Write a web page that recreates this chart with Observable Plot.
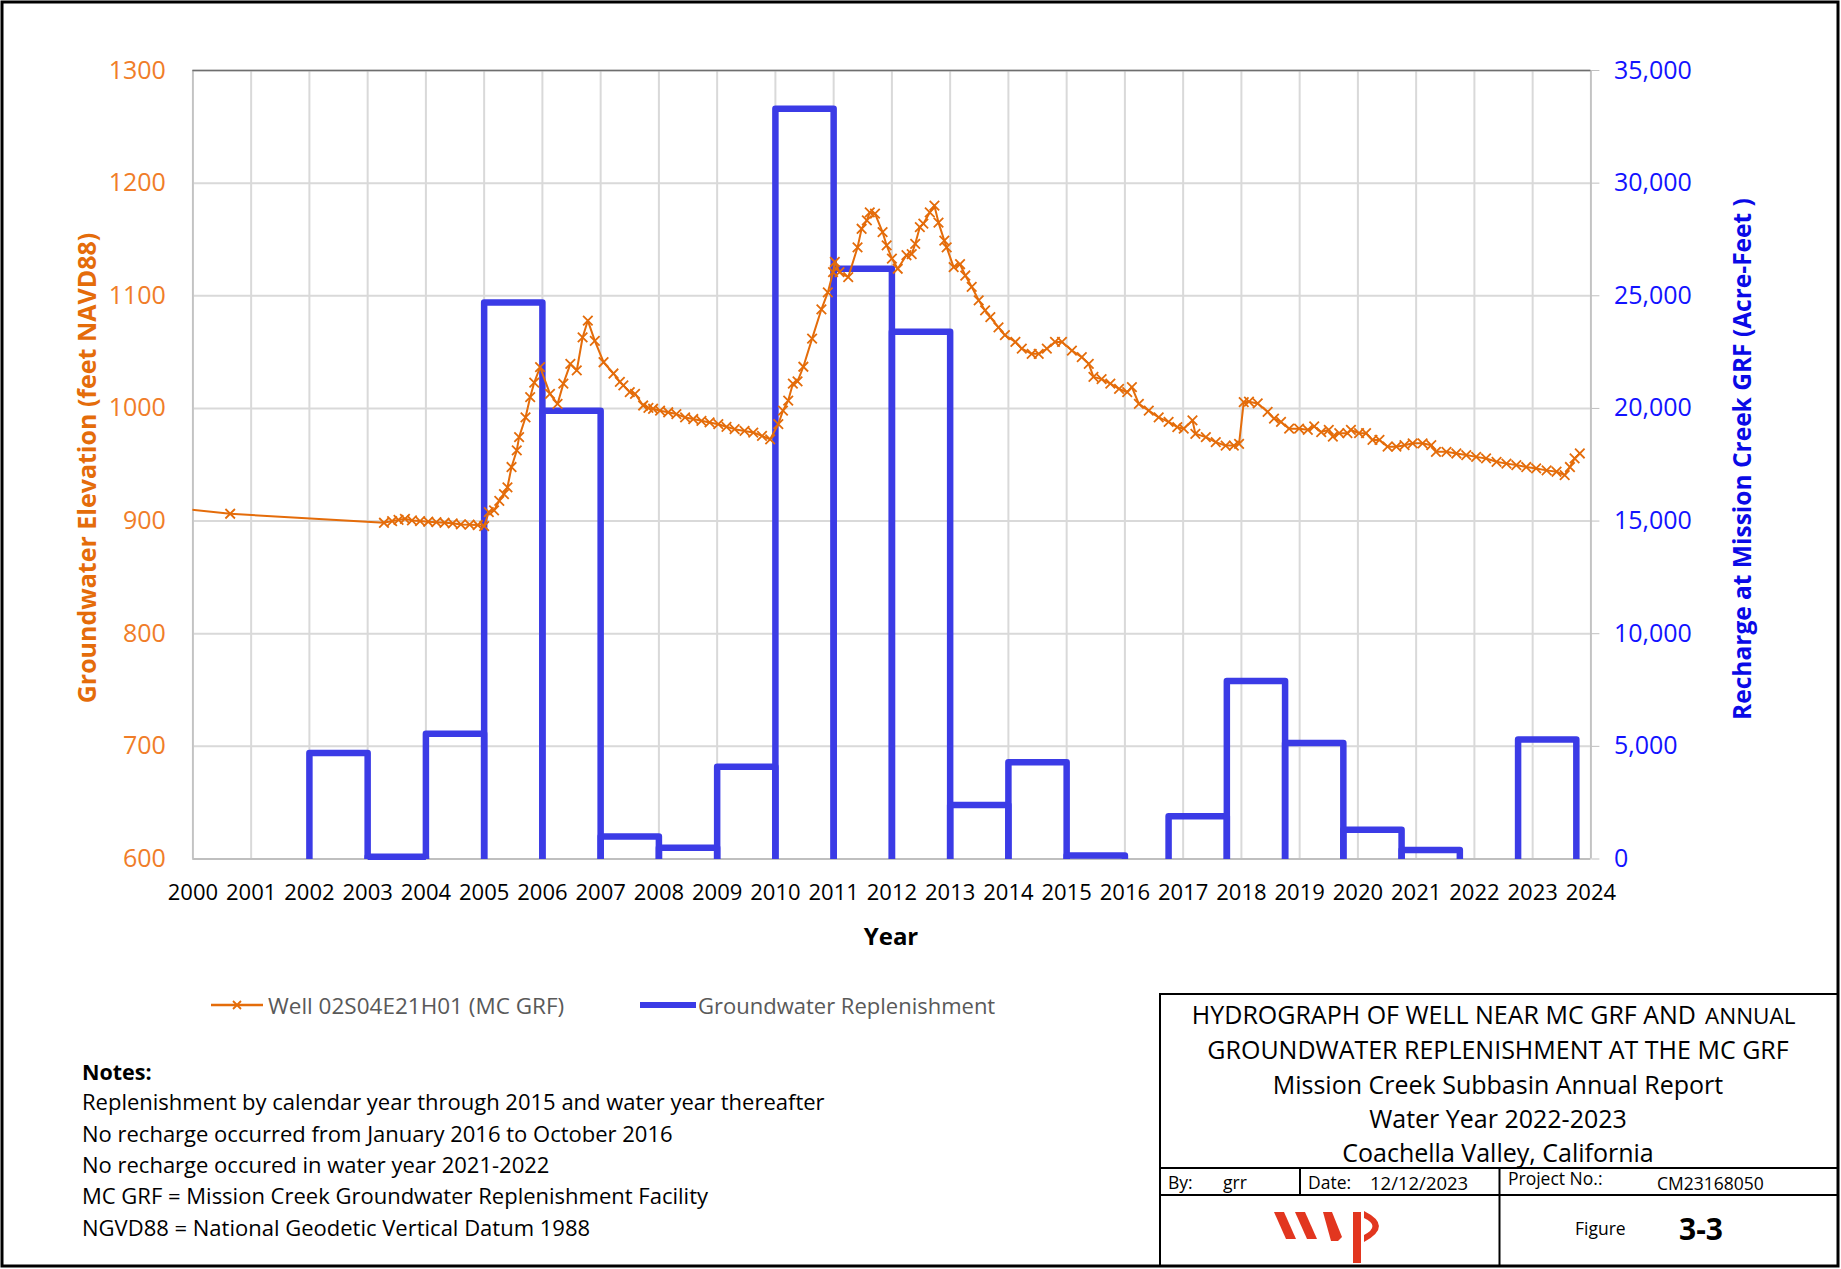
<!DOCTYPE html>
<html>
<head>
<meta charset="utf-8">
<script src="https://cdn.jsdelivr.net/npm/d3@7"></script>
<script src="https://cdn.jsdelivr.net/npm/@observablehq/plot@0.6"></script>
<style>
  body { margin: 0; background: #fff; }
  #page { position: relative; width: 1841px; height: 1269px; overflow: hidden; font-family: "Open Sans", sans-serif; background: #fff; }
  #page > svg { position: absolute; left: 0; top: 0; }
</style>
</head>
<body>
<div id="page"></div>
<script>
// Well 02S04E21H01 water levels: decimal year and elevation (feet)
const wellYears = [
  1999.5, 2000.64,
  2003.28, 2003.42, 2003.53, 2003.64, 2003.76, 2003.9, 2004.04, 2004.18, 2004.32, 2004.46, 2004.6, 2004.75, 2004.89, 2005.0,
  2005.08, 2005.17, 2005.26, 2005.34, 2005.4, 2005.47, 2005.56, 2005.6, 2005.71, 2005.79, 2005.86, 2005.96,
  2006.13, 2006.26, 2006.36, 2006.48, 2006.59, 2006.69, 2006.78, 2006.9, 2007.05, 2007.22, 2007.33, 2007.39, 2007.5, 2007.59, 2007.73, 2007.82, 2007.9,
  2008.02, 2008.16, 2008.3, 2008.45, 2008.59, 2008.73, 2008.87, 2009.02, 2009.16, 2009.3, 2009.47, 2009.62, 2009.77, 2009.91,
  2010.05, 2010.13, 2010.22, 2010.3, 2010.38, 2010.48, 2010.63, 2010.79, 2010.9, 2010.99, 2011.02, 2011.1, 2011.25, 2011.41, 2011.48, 2011.57, 2011.62, 2011.71, 2011.84, 2011.91,
  2012.0, 2012.1, 2012.25, 2012.34, 2012.4, 2012.48, 2012.54, 2012.65, 2012.73, 2012.8, 2012.9, 2012.94,
  2013.06, 2013.17, 2013.26, 2013.37, 2013.49, 2013.6, 2013.69, 2013.83, 2013.94,
  2014.12, 2014.23, 2014.4, 2014.52, 2014.66, 2014.8, 2014.92,
  2015.09, 2015.26, 2015.38, 2015.46, 2015.6, 2015.75, 2015.9,
  2016.04, 2016.12, 2016.24, 2016.41, 2016.58, 2016.75, 2016.9,
  2017.01, 2017.16, 2017.21, 2017.39, 2017.56, 2017.73, 2017.87, 2017.96,
  2018.04, 2018.13, 2018.28, 2018.45, 2018.56, 2018.68, 2018.82, 2018.99,
  2019.14, 2019.25, 2019.37, 2019.5, 2019.57, 2019.68, 2019.82, 2019.88,
  2020.02, 2020.14, 2020.25, 2020.37, 2020.51, 2020.66, 2020.8, 2020.94,
  2021.11, 2021.26, 2021.34, 2021.52, 2021.69, 2021.86,
  2022.03, 2022.2, 2022.38, 2022.55, 2022.72, 2022.89,
  2023.06, 2023.24, 2023.41, 2023.55, 2023.64, 2023.72, 2023.81
];
const wellElev = [
  912.8, 906.5,
  898.5, 900, 901, 902, 900.6, 900, 899.4, 899, 898.5, 898, 897, 896.8, 896.5, 895.6,
  908, 909.5, 918, 924, 930, 948, 962.7, 974.5, 992, 1010, 1023, 1036.6,
  1013, 1004, 1022, 1039.6, 1033.7, 1063, 1078, 1060, 1041, 1031, 1023.5, 1020.5, 1014.5, 1013, 1002.6, 1000.5, 999.7,
  998, 996.6, 995, 992, 990.6, 989, 987.6, 986, 983.7, 981.6, 980, 978.6, 975.6, 972.6,
  986, 998, 1007, 1022, 1024, 1037, 1062, 1088, 1103, 1121, 1130, 1121, 1116.5, 1143, 1159.5, 1167, 1174, 1173, 1156.5, 1144.7,
  1133, 1124, 1136, 1137, 1146, 1161, 1164, 1174, 1180, 1165, 1149, 1143,
  1125.4, 1128, 1118, 1108, 1096, 1087, 1081, 1072, 1065,
  1059, 1053, 1048.5, 1048.5, 1053, 1059, 1059,
  1051.4, 1045.5, 1039.6, 1028, 1026, 1022, 1017.4,
  1014.4, 1019, 1004, 998, 992, 988, 983.4,
  982, 989.4, 977.5, 974.5, 970, 967, 967, 968.6,
  1005.6, 1006, 1004.4, 997, 991, 988, 982, 982,
  981, 984, 979, 981, 975, 978, 978, 981,
  978, 978, 972, 972, 966, 966, 967.4, 969,
  969, 967.4, 961.5, 961.5, 960, 958.6,
  957, 955.6, 952.6, 951, 949.7, 948,
  946.7, 945, 943.8, 940.8, 948, 955.6, 960
];

// Replenishment at the MC GRF (acre-feet) per period:
// calendar years through 2015, water years (Oct 1 - Sep 30) thereafter
const rechargeStart = [2002, 2003, 2004, 2005, 2006, 2007, 2008, 2009, 2010, 2011, 2012, 2013, 2014, 2015, 2016.75, 2017.75, 2018.75, 2019.75, 2020.75, 2022.75];
const rechargeEnd   = [2003, 2004, 2005, 2006, 2007, 2008, 2009, 2010, 2011, 2012, 2013, 2014, 2015, 2016, 2017.75, 2018.75, 2019.75, 2020.75, 2021.75, 2023.75];
const rechargeAF    = [4700, 100, 5560, 24700, 19900, 1000, 500, 4100, 33300, 26200, 23400, 2400, 4300, 150, 1900, 7900, 5150, 1300, 400, 5300];

// Axis ticks
const yearTicks = d3.range(2000, 2025);
const elevTicks = d3.range(600, 1301, 100);

const ORANGE = "#E46C0A";
const ORANGE_TXT = "#F07D28";
const BLUE = "#3B3BE6";
const BLUE_TXT = "#1212FF";
const GRID = "#D9D9D9";

// recharge (0–35,000 AF) shares the elevation scale (600–1300 ft)
const afToElev = af => 600 + af / 50;
const elevToAf = e => (e - 600) * 50;

const well = wellYears.map((t, i) => ({t, elev: wellElev[i]}));

// open-bottomed column outlines: up, across, down
const barPath = rechargeAF.flatMap((af, i) => [
  {id: i, x: rechargeStart[i], af: 0},
  {id: i, x: rechargeStart[i], af},
  {id: i, x: rechargeEnd[i], af},
  {id: i, x: rechargeEnd[i], af: 0}
]);

const chart = Plot.plot({
  width: 1841,
  height: 1269,
  marginLeft: 192.4,
  marginRight: 250.6,
  marginTop: 70,
  marginBottom: 410.5,
  style: {fontFamily: "'Open Sans', sans-serif", fontSize: "22px", background: "transparent"},
  x: {domain: [2000, 2024]},
  y: {domain: [600, 1300]},
  marks: [
    Plot.gridX(yearTicks, {stroke: GRID, strokeOpacity: 1, strokeWidth: 2}),
    Plot.gridY(elevTicks, {stroke: GRID, strokeOpacity: 1, strokeWidth: 2}),
    Plot.ruleX([2000, 2024], {stroke: "#BFBFBF", strokeWidth: 1.5}),
    Plot.ruleY([600], {stroke: "#BFBFBF", strokeWidth: 2}),
    Plot.ruleY([1300], {stroke: "#6E6E6E", strokeWidth: 1.5}),
    Plot.line(barPath, {
      x: "x", y: d => afToElev(d.af), z: "id",
      stroke: BLUE, strokeWidth: 6.5, strokeLinejoin: "round", strokeLinecap: "butt"
    }),
    Plot.line(well, {x: "t", y: "elev", stroke: ORANGE, strokeWidth: 2, clip: true}),
    Plot.dot(well, {x: "t", y: "elev", symbol: "times", r: 4.4, stroke: ORANGE, strokeWidth: 1.8, clip: true}),
    Plot.axisX(yearTicks, {
      anchor: "bottom", tickSize: 0, tickPadding: 25, fontSize: 22,
      tickFormat: d => String(d), fill: "#000", label: null
    }),
    Plot.axisY(elevTicks, {
      anchor: "left", tickSize: 0, tickPadding: 27, fontSize: 25,
      tickFormat: d => String(d), fill: ORANGE_TXT, label: null
    }),
    Plot.axisY(elevTicks, {
      anchor: "right", tickSize: 8, tickPadding: 15, fontSize: 25,
      tickFormat: d => d3.format(",")(elevToAf(d)), stroke: "#BFBFBF", fill: BLUE_TXT, label: null
    })
  ]
});
document.getElementById("page").appendChild(chart);

// Axis titles, legend, notes and title block
const svg = d3.select("#page").append("svg")
  .attr("width", 1841).attr("height", 1269)
  .style("font-family", "'Open Sans', sans-serif");

// page border
svg.append("rect").attr("x", 2).attr("y", 2).attr("width", 1836).attr("height", 1264)
  .attr("fill", "none").attr("stroke", "#000").attr("stroke-width", 3);

// axis titles
svg.append("text").attr("transform", "translate(86,468) rotate(-90)")
  .attr("text-anchor", "middle").attr("dominant-baseline", "central")
  .attr("font-size", 25).attr("font-weight", "bold").attr("fill", ORANGE)
  .text("Groundwater Elevation (feet NAVD88)");
svg.append("text").attr("transform", "translate(1741,459) rotate(-90)")
  .attr("text-anchor", "middle").attr("dominant-baseline", "central")
  .attr("font-size", 24.5).attr("font-weight", "bold").attr("fill", "#0A0AE6")
  .text("Recharge at Mission Creek GRF (Acre-Feet )");
svg.append("text").attr("x", 891).attr("y", 935)
  .attr("text-anchor", "middle").attr("dominant-baseline", "central")
  .attr("font-size", 24).attr("font-weight", "bold").attr("fill", "#000")
  .text("Year");

// legend
const lg = svg.append("g");
lg.append("line").attr("x1", 211).attr("x2", 263).attr("y1", 1005).attr("y2", 1005)
  .attr("stroke", ORANGE).attr("stroke-width", 2.5);
lg.append("path").attr("d", "M233,1001L241,1009M233,1009L241,1001")
  .attr("stroke", ORANGE).attr("stroke-width", 1.8);
lg.append("text").attr("x", 268).attr("y", 1005).attr("dominant-baseline", "central")
  .attr("font-size", 22.5).attr("fill", "#595959").text("Well 02S04E21H01 (MC GRF)");
lg.append("line").attr("x1", 640).attr("x2", 696).attr("y1", 1005).attr("y2", 1005)
  .attr("stroke", BLUE).attr("stroke-width", 6);
lg.append("text").attr("x", 698).attr("y", 1005).attr("dominant-baseline", "central")
  .attr("font-size", 22).attr("fill", "#595959").text("Groundwater Replenishment");

// notes
const notes = [
  "Replenishment by calendar year through 2015 and water year thereafter",
  "No recharge occurred from January 2016 to October 2016",
  "No recharge occured in water year 2021-2022",
  "MC GRF = Mission Creek Groundwater Replenishment Facility",
  "NGVD88 = National Geodetic Vertical Datum 1988"
];
const noteY = [1101, 1133, 1164, 1195, 1227];
svg.append("text").attr("x", 82).attr("y", 1071).attr("dominant-baseline", "central")
  .attr("font-size", 21.5).attr("font-weight", "bold").attr("fill", "#000").text("Notes:");
svg.selectAll("text.note").data(notes).join("text").attr("class", "note")
  .attr("x", 82).attr("y", (d, i) => noteY[i]).attr("dominant-baseline", "central")
  .attr("font-size", 22).attr("fill", "#000").text(d => d);

// title block frame
const tb = svg.append("g").attr("stroke", "#000").attr("stroke-width", 2).attr("fill", "none");
tb.append("rect").attr("x", 1160).attr("y", 994).attr("width", 678).attr("height", 272);
tb.append("line").attr("x1", 1160).attr("x2", 1838).attr("y1", 1168).attr("y2", 1168);
tb.append("line").attr("x1", 1160).attr("x2", 1838).attr("y1", 1195).attr("y2", 1195);
tb.append("line").attr("x1", 1300).attr("x2", 1300).attr("y1", 1168).attr("y2", 1195);
tb.append("line").attr("x1", 1499.5).attr("x2", 1499.5).attr("y1", 1168).attr("y2", 1266);

const titleY = [1014, 1049, 1084, 1118, 1152];
// first line: "ANNUAL" is set slightly smaller
svg.append("text").attr("x", 1696).attr("y", titleY[0]).attr("text-anchor", "end")
  .attr("dominant-baseline", "central").attr("font-size", 25).attr("fill", "#000")
  .text("HYDROGRAPH OF WELL NEAR MC GRF AND");
svg.append("text").attr("x", 1705).attr("y", titleY[0] + 1).attr("text-anchor", "start")
  .attr("dominant-baseline", "central").attr("font-size", 22.5).attr("fill", "#000")
  .text("ANNUAL");
const titleLines = [
  "GROUNDWATER REPLENISHMENT AT THE MC GRF",
  "Mission Creek Subbasin Annual Report",
  "Water Year 2022-2023",
  "Coachella Valley, California"
];
svg.selectAll("text.tl").data(titleLines).join("text").attr("class", "tl")
  .attr("x", 1498).attr("y", (d, i) => titleY[i + 1]).attr("text-anchor", "middle")
  .attr("dominant-baseline", "central").attr("font-size", 25).attr("fill", "#000").text(d => d);

const cells = [
  {x: 1168, y: 1182, t: "By:"}, {x: 1223, y: 1182, t: "grr"},
  {x: 1308, y: 1182, t: "Date:"}, {x: 1370, y: 1182, t: "12/12/2023"},
  {x: 1508, y: 1178, t: "Project No.:"}, {x: 1657, y: 1183, t: "CM23168050"}
];
svg.selectAll("text.cell").data(cells).join("text").attr("class", "cell")
  .attr("x", d => d.x).attr("y", d => d.y).attr("dominant-baseline", "central")
  .attr("font-size", d => d.t === "12/12/2023" ? 18.5 : 17.5).attr("fill", "#000").text(d => d.t);
svg.append("text").attr("x", 1575).attr("y", 1228).attr("dominant-baseline", "central")
  .attr("font-size", 17.5).attr("fill", "#000").text("Figure");
svg.append("text").attr("x", 1679).attr("y", 1228).attr("dominant-baseline", "central")
  .attr("font-size", 30).attr("font-weight", "bold").attr("fill", "#000").text("3-3");

// wsp logo
const logo = svg.append("g").attr("fill", "#E2361F");
logo.append("path").attr("d", "M1274,1212L1284,1212L1296,1239L1286,1239Z");
logo.append("path").attr("d", "M1295,1212L1305,1212L1317,1239L1307,1239Z");
logo.append("path").attr("d", "M1323,1212L1332,1212L1342,1237L1338,1241L1331,1241Z");
logo.append("rect").attr("x", 1353).attr("y", 1212).attr("width", 8).attr("height", 51);
logo.append("path").attr("d", "M1364,1211Q1394,1226 1364,1242L1364,1235Q1381,1226 1364,1218Z");
</script>
</body>
</html>
